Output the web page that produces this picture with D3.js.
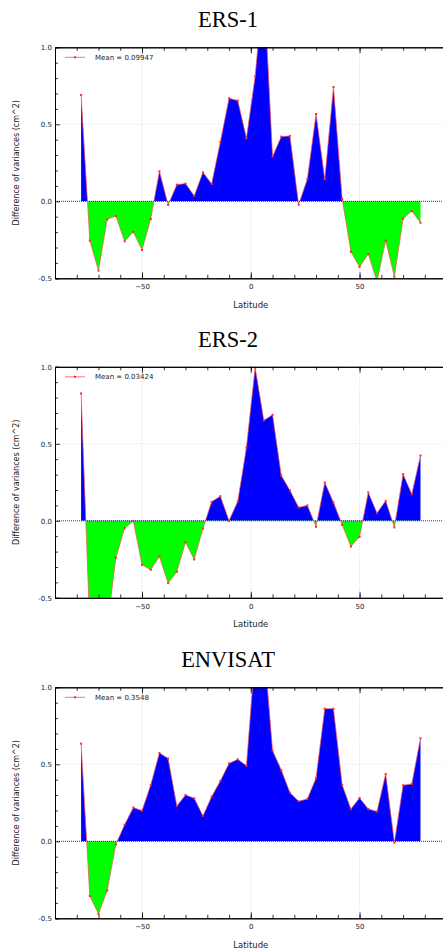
<!DOCTYPE html>
<html>
<head>
<meta charset="utf-8">
<script src="https://cdn.jsdelivr.net/npm/d3@7"></script>
<style>
  html, body { margin: 0; padding: 0; background: #fff; }
  svg { display: block; }
</style>
</head>
<body>
<script>
// ---- data ----
const latitudes = [-78,-74,-70,-66,-62,-58,-54,-50,-46,-42,-38,-34,-30,-26,-22,-18,-14,-10,-6,-2,
                   2,6,10,14,18,22,26,30,34,38,42,46,50,54,58,62,66,70,74,78];
const ers1 = [0.69,-0.255,-0.45,-0.117,-0.095,-0.26,-0.199,-0.316,-0.115,0.195,-0.024,0.108,0.115,0.035,0.188,0.113,0.385,0.669,0.654,0.409,
              0.812,1.42,0.29,0.42,0.424,-0.022,0.145,0.567,0.143,0.742,0.015,-0.327,-0.426,-0.342,-0.52,-0.255,-0.49,-0.113,-0.063,-0.139];
const ers2 = [0.827,-0.70,-0.92,-0.69,-0.240,-0.048,-0.002,-0.286,-0.318,-0.232,-0.405,-0.331,-0.139,-0.251,-0.050,0.123,0.160,0.0,0.126,0.476,
              0.995,0.652,0.688,0.294,0.197,0.087,0.10,-0.039,0.249,0.119,-0.026,-0.167,-0.104,0.184,0.050,0.130,-0.043,0.303,0.173,0.424];
const envisat = [0.634,-0.355,-0.472,-0.320,-0.019,0.108,0.219,0.199,0.366,0.574,0.537,0.229,0.301,0.279,0.165,0.29,0.392,0.506,0.532,0.491,
                 1.22,1.28,0.589,0.463,0.316,0.260,0.275,0.411,0.861,0.861,0.366,0.21,0.281,0.21,0.193,0.437,-0.009,0.364,0.372,0.669];
const titles = ["ERS-1", "ERS-2", "ENVISAT"];
const meanLabels = ["Mean = 0.09947", "Mean = 0.03424", "Mean = 0.3548"];
const xMajorTicks = [-50, 0, 50];
const xMinorTicks = [-80,-70,-60,-50,-40,-30,-20,-10,0,10,20,30,40,50,60,70,80];
const yMajorTicks = [-0.5, 0.0, 0.5, 1.0];
const yTickLabels = ["-0.5", "0.0", "0.5", "1.0"];
const yMinorTicks = [-0.4,-0.3,-0.2,-0.1,0.1,0.2,0.3,0.4,0.6,0.7,0.8,0.9];
const xDomain = [-90, 90];
const yDomain = [-0.5, 1.0];
const xLabel = "Latitude";
const yLabel = "Difference of variances (cm^2)";

// ---- layout ----
const W = 443, H = 952;
const plotLeft = 55, plotRight = 446.6, plotH = 231;
const panelTops = [47.3, 366.8, 687.3];
const series = [ers1, ers2, envisat];

const svg = d3.select("body").append("svg").attr("width", W).attr("height", H)
  .style("font-family", "'DejaVu Sans', sans-serif");
svg.append("rect").attr("width", W).attr("height", H).attr("fill", "#fff");
const defs = svg.append("defs");

const x = d3.scaleLinear().domain(xDomain).range([plotLeft, plotRight]);

series.forEach((vals, i) => {
  const top = panelTops[i];
  const bottom = top + plotH;
  const y = d3.scaleLinear().domain(yDomain).range([bottom, top]);
  const g = svg.append("g");
  const data = latitudes.map((lat, k) => ({lat, v: vals[k]}));
  const y0 = y(0);

  // clip paths
  const clipAll = "clipAll" + i, clipPos = "clipPos" + i, clipNeg = "clipNeg" + i;
  defs.append("clipPath").attr("id", clipAll).append("rect")
    .attr("x", plotLeft).attr("y", top).attr("width", plotRight - plotLeft).attr("height", plotH);
  defs.append("clipPath").attr("id", clipPos).append("rect")
    .attr("x", plotLeft).attr("y", top).attr("width", plotRight - plotLeft).attr("height", y0 - top);
  defs.append("clipPath").attr("id", clipNeg).append("rect")
    .attr("x", plotLeft).attr("y", y0).attr("width", plotRight - plotLeft).attr("height", bottom - y0);

  // title
  svg.append("text").attr("x", 228).attr("y", top - 20)
    .attr("text-anchor", "middle")
    .style("font-family", "'Liberation Serif', 'Times New Roman', serif")
    .style("font-size", "22.5px").attr("fill", "#000").text(titles[i]);

  // grid
  const grid = g.append("g").attr("stroke", "#c8c8c8").attr("stroke-width", 0.6)
    .attr("stroke-dasharray", "1.2,1.6");
  grid.selectAll("line.gx").data(xMajorTicks).join("line")
    .attr("x1", d => x(d)).attr("x2", d => x(d)).attr("y1", top).attr("y2", bottom);
  grid.selectAll("line.gy").data([0.5]).join("line")
    .attr("x1", plotLeft).attr("x2", plotRight).attr("y1", d => y(d)).attr("y2", d => y(d));

  // areas
  const area = d3.area().x(d => x(d.lat)).y0(y0).y1(d => y(d.v));
  const ag = g.append("g").attr("clip-path", `url(#${clipAll})`);
  ag.append("path").datum(data).attr("d", area).attr("fill", "#0000ff")
    .attr("clip-path", `url(#${clipPos})`);
  ag.append("path").datum(data).attr("d", area).attr("fill", "#00ff00")
    .attr("clip-path", `url(#${clipNeg})`);

  // zero line
  g.append("line").attr("x1", plotLeft).attr("x2", plotRight).attr("y1", y0).attr("y2", y0)
    .attr("stroke", "#000").attr("stroke-width", 0.8).attr("stroke-dasharray", "1,1");

  // line + markers
  const line = d3.line().x(d => x(d.lat)).y(d => y(d.v));
  const lg = g.append("g").attr("clip-path", `url(#${clipAll})`);
  lg.append("path").datum(data).attr("d", line).attr("fill", "none")
    .attr("stroke", "#ff5050").attr("stroke-width", 0.7);
  lg.selectAll("rect.m").data(data).join("rect")
    .attr("x", d => x(d.lat) - 1).attr("y", d => y(d.v) - 1)
    .attr("width", 2).attr("height", 2).attr("fill", "#ff2a2a");

  // axes
  const axStyle = sel => {
    sel.selectAll("path.domain").attr("stroke", "#000").attr("stroke-width", 1);
    sel.selectAll(".tick line").attr("stroke", "#000").attr("stroke-width", 0.8);
    sel.selectAll("text").style("font-family", "'DejaVu Sans', sans-serif")
      .style("font-size", "7px").attr("fill", "#222");
  };
  // bottom minor
  g.append("g").attr("transform", `translate(0,${bottom})`)
    .call(d3.axisBottom(x).tickValues(xMinorTicks).tickSize(-3.5).tickFormat(""))
    .call(axStyle);
  // bottom major
  g.append("g").attr("transform", `translate(0,${bottom})`)
    .call(d3.axisBottom(x).tickValues(xMajorTicks).tickSize(-6).tickPadding(6)
      .tickFormat(d3.format("d")).tickSizeOuter(0))
    .call(axStyle);
  // top minor & major
  g.append("g").attr("transform", `translate(0,${top})`)
    .call(d3.axisTop(x).tickValues(xMinorTicks).tickSize(-3.5).tickFormat(""))
    .call(axStyle);
  g.append("g").attr("transform", `translate(0,${top})`)
    .call(d3.axisTop(x).tickValues(xMajorTicks).tickSize(-6).tickFormat("").tickSizeOuter(0))
    .call(axStyle);
  // left
  g.append("g").attr("transform", `translate(${plotLeft},0)`)
    .call(d3.axisLeft(y).tickValues(yMinorTicks).tickSize(-3).tickFormat(""))
    .call(axStyle);
  g.append("g").attr("transform", `translate(${plotLeft},0)`)
    .call(d3.axisLeft(y).tickValues(yMajorTicks).tickSize(-5).tickPadding(3)
      .tickFormat((d, k) => yTickLabels[yMajorTicks.indexOf(d)]).tickSizeOuter(0))
    .call(axStyle);

  // legend
  const ly = top + 10;
  g.append("line").attr("x1", 65).attr("x2", 85).attr("y1", ly).attr("y2", ly)
    .attr("stroke", "#ff5050").attr("stroke-width", 0.8);
  g.append("rect").attr("x", 74).attr("y", ly - 1).attr("width", 2).attr("height", 2).attr("fill", "#ff2a2a");
  g.append("text").attr("x", 95).attr("y", ly + 2.5).style("font-size", "7px").attr("fill", "#222")
    .text(meanLabels[i]);

  // axis labels
  g.append("text").attr("x", (plotLeft + plotRight) / 2).attr("y", bottom + 29.5)
    .attr("text-anchor", "middle").style("font-size", "8.5px").attr("fill", "#222").text(xLabel);
  g.append("text").attr("transform", `translate(18.5,${(top + bottom) / 2}) rotate(-90)`)
    .attr("text-anchor", "middle").style("font-size", "8px").attr("fill", "#222").text(yLabel);
});
</script>
</body>
</html>
